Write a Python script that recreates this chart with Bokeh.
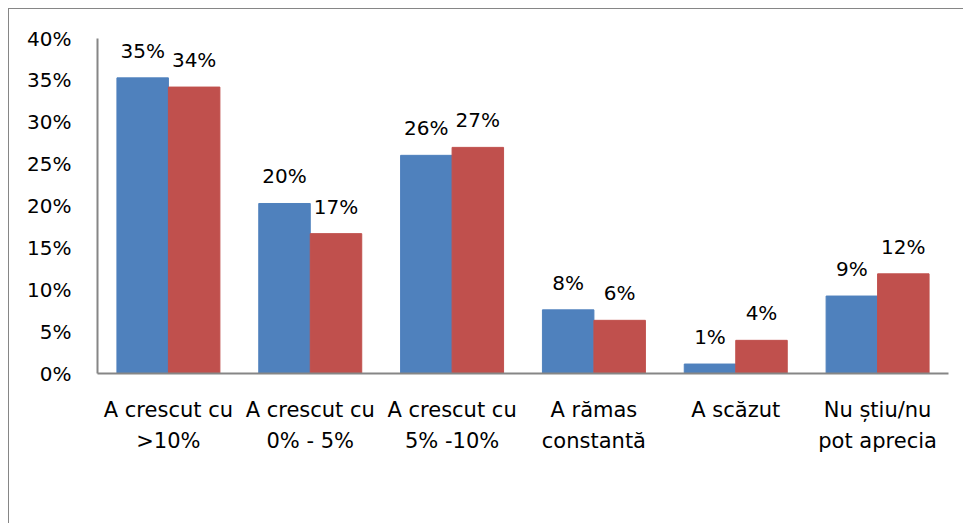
from bokeh.plotting import figure
from bokeh.models import (FactorRange, Range1d, ColumnDataSource, LabelSet,
                          Legend, LegendItem, FixedTicker, PrintfTickFormatter)
from bokeh.core.properties import value
from bokeh.transform import dodge
from bokeh.embed import file_html
from bokeh.resources import INLINE

categories = ["A crescut cu\n>10%", "A crescut cu\n0% - 5%", "A crescut cu\n5% -10%",
              "A rămas\nconstantă", "A scăzut", "Nu știu/nu\npot aprecia"]
series_names = ["Mai mult de 50%", "Mai puțin de 50%"]
mai_mult = [35.3, 20.3, 26.05, 7.6, 1.13, 9.25]
mai_putin = [34.2, 16.7, 27.0, 6.35, 3.96, 11.9]
y_ticks = [0, 5, 10, 15, 20, 25, 30, 35, 40]

BLUE = "#4F81BD"
RED = "#C0504D"
GRAY = "#868686"
FONT = "DejaVu Sans"
FS_NUM = "20px"
FS_TXT = "21px"

src = ColumnDataSource(dict(
    cat=categories,
    mult=mai_mult,
    putin=mai_putin,
    mult_lbl=[f"{round(v)}%" for v in mai_mult],
    putin_lbl=[f"{round(v)}%" for v in mai_putin],
))

p = figure(frame_width=851, frame_height=335,
           x_range=FactorRange(*categories, range_padding=0),
           y_range=Range1d(0, 40), output_backend="svg", toolbar_location=None,
           min_border_left=88, min_border_right=15, min_border_top=29, min_border_bottom=150)
p.styles = {"margin-left": "8px", "margin-top": "8px",
            "border-left": "1px solid " + GRAY, "border-top": "1px solid " + GRAY}
p.outline_line_color = None
p.grid.grid_line_color = None

bw = 0.363
r1 = p.vbar(x=dodge("cat", -bw / 2, range=p.x_range), top="mult", width=bw,
            source=src, fill_color=BLUE, line_color=BLUE)
r2 = p.vbar(x=dodge("cat", bw / 2, range=p.x_range), top="putin", width=bw,
            source=src, fill_color=RED, line_color=RED)

for col, lbl, off in (("mult", "mult_lbl", -bw / 2), ("putin", "putin_lbl", bw / 2)):
    ls = LabelSet(x=dodge("cat", off, range=p.x_range), y=col, text=lbl, source=src,
                  y_offset=20, text_align="center", text_baseline="alphabetic",
                  text_font=value(FONT), text_font_size=value(FS_NUM), text_color="#000000")
    p.add_layout(ls)

for ax in (p.xaxis[0], p.yaxis[0]):
    ax.axis_line_color = GRAY
    ax.axis_line_width = 2
    ax.major_tick_line_color = None
    ax.minor_tick_line_color = None
    ax.major_tick_out = 0
    ax.major_tick_in = 0
    ax.major_label_text_font = FONT
    ax.major_label_text_color = "#000000"

p.yaxis.major_label_text_font_size = FS_NUM
p.xaxis.major_label_text_font_size = FS_TXT
p.yaxis.ticker = FixedTicker(ticks=y_ticks)
p.yaxis.formatter = PrintfTickFormatter(format="%d%%")
p.yaxis.major_label_standoff = 26
p.xaxis.major_label_standoff = 24
p.xaxis.major_label_text_line_height = 1.31

legend = Legend(items=[LegendItem(label=series_names[0], renderers=[r1]),
                       LegendItem(label=series_names[1], renderers=[r2])],
                orientation="horizontal", location=(175, -137),
                glyph_width=14, glyph_height=14, label_standoff=8, spacing=38,
                label_text_font=FONT, label_text_font_size=FS_TXT,
                border_line_color=None, background_fill_alpha=0,
                margin=0, padding=0)
p.add_layout(legend, "center")

open("out.html", "w").write(file_html(p, INLINE))
